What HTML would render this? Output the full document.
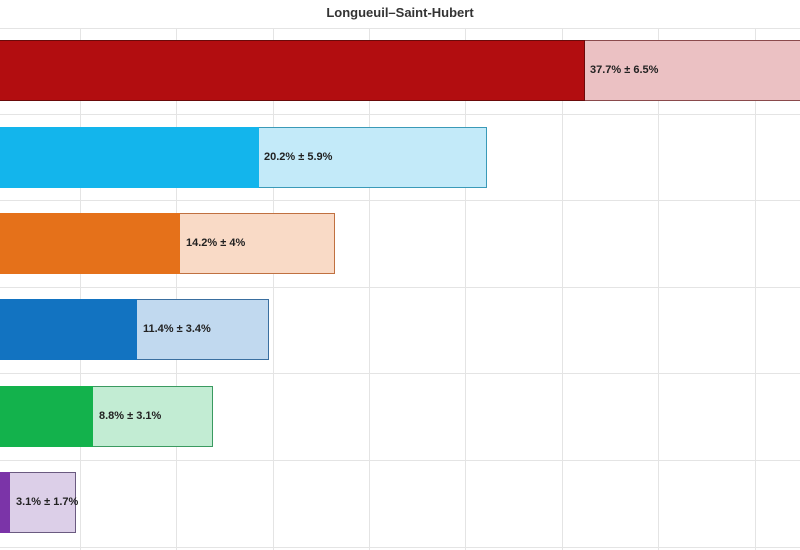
<!DOCTYPE html><html><head><style>
body{margin:0;width:800px;height:550px;background:#fff;position:relative;overflow:hidden;font-family:"Liberation Sans",Arial,sans-serif}
.v{position:absolute;top:28px;height:522px;width:1px;background:#e4e4e4}
.h{position:absolute;left:0;width:800px;height:1px;background:#e4e4e4}
.d,.l{position:absolute;height:61px;box-sizing:border-box}
.l{border:1px solid}
.t{position:absolute;font-size:11px;font-weight:bold;color:#222;line-height:61px}
</style></head><body>
<div style="position:absolute;top:5px;width:800px;text-align:center;font-size:13px;font-weight:bold;color:#333">Longueuil–Saint-Hubert</div>
<div class="v" style="left:80px"></div><div class="v" style="left:176px"></div><div class="v" style="left:273px"></div><div class="v" style="left:369px"></div><div class="v" style="left:465px"></div><div class="v" style="left:562px"></div><div class="v" style="left:658px"></div><div class="v" style="left:755px"></div>
<div class="h" style="top:28px"></div><div class="h" style="top:114px"></div><div class="h" style="top:200px"></div><div class="h" style="top:287px"></div><div class="h" style="top:373px"></div><div class="h" style="top:460px"></div><div class="h" style="top:547px"></div>

<div class="l" style="top:40px;left:584px;width:230px;background:#ebc1c3;border-color:#8a4a4c"></div>
<div class="d" style="top:40px;left:0;width:585px;background:#b20d10;border:1px solid #6a0a0a;border-left:0"></div>
<div class="t" style="top:40px;left:590px">37.7% ± 6.5%</div>

<div class="l" style="top:127px;left:258px;width:229px;background:#c3eaf9;border-color:#3a9ab8"></div>
<div class="d" style="top:127px;left:0;width:259px;background:#13b5ec"></div>
<div class="t" style="top:127px;left:264px">20.2% ± 5.9%</div>

<div class="l" style="top:213px;left:179px;width:156px;background:#f9dac6;border-color:#c07040"></div>
<div class="d" style="top:213px;left:0;width:180px;background:#e5711a"></div>
<div class="t" style="top:213px;left:186px">14.2% ± 4%</div>

<div class="l" style="top:299px;left:136px;width:133px;background:#c1d9ef;border-color:#3a6fa0"></div>
<div class="d" style="top:299px;left:0;width:137px;background:#1273c1"></div>
<div class="t" style="top:299px;left:143px">11.4% ± 3.4%</div>

<div class="l" style="top:386px;left:92px;width:121px;background:#c2ecd3;border-color:#3a9a60"></div>
<div class="d" style="top:386px;left:0;width:93px;background:#13b24c"></div>
<div class="t" style="top:386px;left:99px">8.8% ± 3.1%</div>

<div class="l" style="top:472px;left:9px;width:67px;background:#dccfe8;border-color:#6a5a80"></div>
<div class="d" style="top:472px;left:0;width:10px;background:#7b34a8"></div>
<div class="t" style="top:472px;left:16px">3.1% ± 1.7%</div>
</body></html>
